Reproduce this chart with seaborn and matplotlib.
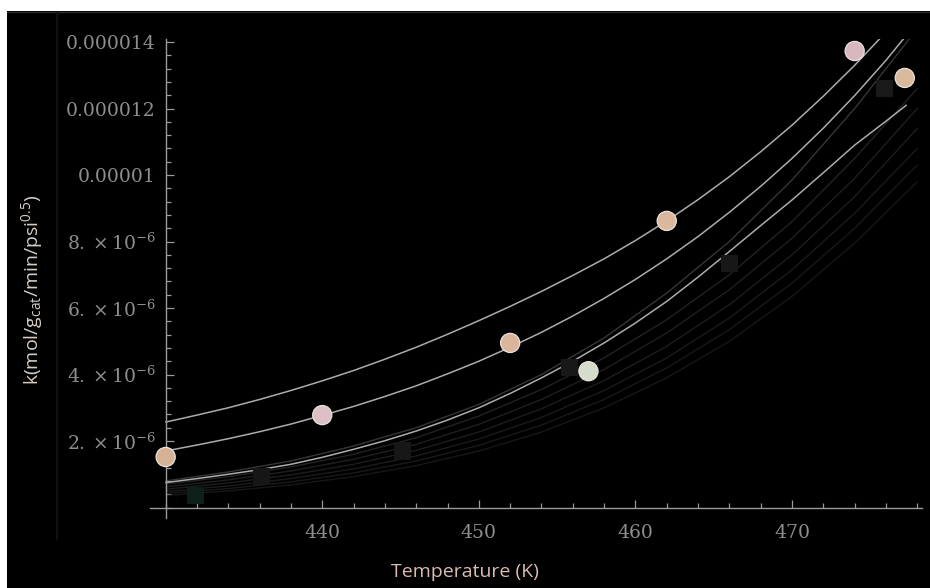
import numpy as np
import pandas as pd
import matplotlib
matplotlib.use("Agg")
import matplotlib.pyplot as plt
import seaborn as sns
from matplotlib.patches import Rectangle
from matplotlib.lines import Line2D
from matplotlib.ticker import FixedLocator, MultipleLocator, NullFormatter

# ---- measured rate constants k (in units of 1e-6 mol/g_cat/min/psi^0.5) ----
meas_T = [430.0, 440.0, 452.0, 457.0, 462.0, 474.0, 477.2]
meas_k = [1.52, 2.78, 4.95, 4.10, 8.62, 13.73, 12.92]
meas_color = ["#d6b294", "#dcc0c6", "#dab59b", "#d6dccb", "#dbb89d", "#d9b7bf", "#d9b99e"]

# faint secondary data set
faint_T = [431.9, 436.1, 445.1, 455.8, 466.0, 475.9]
faint_k = [0.35, 0.92, 1.70, 4.20, 7.35, 12.60]
faint_color = ["#0c2019", "#161616", "#171717", "#181818", "#171717", "#191919"]

# ---- model curves, sampled along temperature ----
curve_T = [430, 432, 434, 436, 438, 440, 442, 444, 446, 448, 450, 452, 454, 456, 458,
           460, 462, 464, 466, 468, 470, 472, 474, 476, 477.3]
fit_upper = [2.57, 2.78, 3.00, 3.25, 3.52, 3.81, 4.12, 4.46, 4.82, 5.21, 5.62, 6.05,
             6.50, 6.98, 7.48, 8.03, 8.62, 9.26, 9.95, 10.70, 11.50, 12.37, 13.30,
             14.30, 15.10]
fit_middle = [1.70, 1.88, 2.07, 2.28, 2.51, 2.77, 3.04, 3.34, 3.66, 4.02, 4.40, 4.82,
              5.27, 5.76, 6.29, 6.86, 7.48, 8.15, 8.88, 9.66, 10.50, 11.41, 12.39,
              13.45, 14.20]
fit_lower = [0.75, 0.87, 1.00, 1.14, 1.30, 1.51, 1.75, 2.01, 2.30, 2.63, 3.00, 3.43,
             3.90, 4.40, 4.95, 5.55, 6.20, 6.93, 7.70, 8.48, 9.25, 10.07, 10.90,
             11.62, 12.10]

ens_T = [430, 434, 438, 442, 446, 450, 454, 458, 462, 466, 470, 474, 478]
ensemble = [
    [0.80, 1.07, 1.40, 1.85, 2.40, 3.10, 4.00, 5.10, 6.45, 8.00, 9.85, 12.00, 14.40],
    [0.70, 0.93, 1.22, 1.60, 2.10, 2.75, 3.55, 4.50, 5.65, 7.00, 8.60, 10.50, 12.60],
    [0.62, 0.83, 1.10, 1.45, 1.90, 2.50, 3.25, 4.15, 5.25, 6.55, 8.10, 9.90, 12.00],
    [0.55, 0.74, 0.98, 1.30, 1.72, 2.27, 2.97, 3.82, 4.85, 6.10, 7.60, 9.35, 11.40],
    [0.48, 0.65, 0.87, 1.16, 1.55, 2.06, 2.71, 3.52, 4.50, 5.70, 7.15, 8.85, 10.80],
    [0.42, 0.57, 0.77, 1.04, 1.40, 1.87, 2.48, 3.25, 4.20, 5.35, 6.75, 8.40, 10.30],
    [0.36, 0.50, 0.68, 0.93, 1.26, 1.70, 2.27, 3.00, 3.90, 5.00, 6.35, 7.95, 9.80],
]
ensemble_color = ["#363636", "#222222", "#1f1f1f", "#1d1d1d", "#1b1b1b", "#191919", "#171717"]

x_major = [440, 450, 460, 470]
y_major = [2e-6, 4e-6, 6e-6, 8e-6, 1e-5, 1.2e-5, 1.4e-5]
y_labels = [r"$\mathregular{2.\times10^{-6}}$", r"$\mathregular{4.\times10^{-6}}$",
            r"$\mathregular{6.\times10^{-6}}$", r"$\mathregular{8.\times10^{-6}}$",
            "0.00001", "0.000012", "0.000014"]

SCALE = 1e-6

sns.set_theme(style="dark")
plt.rcParams["font.family"] = ["DejaVu Serif"]
plt.rcParams["mathtext.fontset"] = "dejavuserif"

fig = plt.figure(figsize=(9.30, 5.88), dpi=100)
fig.patch.set_facecolor("white")
fig.patches.append(Rectangle((7 / 930, 0), 924 / 930, 577 / 588, transform=fig.transFigure,
                             facecolor="black", edgecolor="none", zorder=-5))
fig.lines.append(Line2D([7 / 930, 1], [1 - 11.5 / 588, 1 - 11.5 / 588],
                        transform=fig.transFigure, color="#2c2c2c", lw=1.0))
fig.lines.append(Line2D([57 / 930, 57 / 930], [1 - 540 / 588, 1 - 12 / 588],
                        transform=fig.transFigure, color="#141414", lw=1.2))

ax = fig.add_axes([150 / 930, 1 - 517.5 / 588, 772 / 930, 478.8 / 588])
ax.set_facecolor("none")

# faint ensemble of curves
for vals, col in zip(ensemble, ensemble_color):
    sns.lineplot(x=ens_T, y=np.array(vals) * SCALE, color=col, lw=1.0, ax=ax,
                 estimator=None, sort=False)

# fitted curves
for vals in (fit_upper, fit_middle, fit_lower):
    sns.lineplot(x=curve_T, y=np.array(vals) * SCALE, color="#acacac", lw=1.1, ax=ax,
                 estimator=None, sort=False)

# faint markers
fdf = pd.DataFrame({"T": faint_T, "k": np.array(faint_k) * SCALE, "id": range(len(faint_T))})
sns.scatterplot(data=fdf, x="T", y="k", hue="id", palette=faint_color, marker="s",
                s=150, edgecolor="none", legend=False, ax=ax, zorder=3)

# measured points
mdf = pd.DataFrame({"T": meas_T, "k": np.array(meas_k) * SCALE, "id": range(len(meas_T))})
sns.scatterplot(data=mdf, x="T", y="k", hue="id", palette=meas_color, s=190,
                edgecolor="#e8e2dc", linewidth=0.9, legend=False, ax=ax, zorder=4)

ax.set_xlim(429.0, 478.3)
ax.set_ylim(-0.3e-6, 14.1e-6)

for side in ("top", "right"):
    ax.spines[side].set_visible(False)
ax.spines["left"].set_position(("data", 430))
ax.spines["bottom"].set_position(("data", 0))
for side in ("left", "bottom"):
    ax.spines[side].set_color("#9a9a9a")
    ax.spines[side].set_linewidth(1.0)

ax.xaxis.set_major_locator(FixedLocator(x_major))
ax.xaxis.set_minor_locator(MultipleLocator(2))
ax.xaxis.set_minor_formatter(NullFormatter())
ax.set_xticklabels([str(v) for v in x_major])
ax.yaxis.set_major_locator(FixedLocator(y_major))
ax.yaxis.set_minor_locator(MultipleLocator(0.4e-6))
ax.yaxis.set_minor_formatter(NullFormatter())
ax.set_yticklabels(y_labels)

ax.tick_params(which="both", bottom=True, left=True, top=False, right=False,
               direction="in", colors="#9a9a9a", labelcolor="#8e8e8e", width=0.9,
               labelsize=13.5)
ax.tick_params(which="major", length=6)
ax.tick_params(which="minor", length=3.5)
ax.tick_params(axis="x", which="major", pad=12)
ax.tick_params(axis="y", which="major", pad=7)
ax.set_xlabel("")
ax.set_ylabel("")
ax.grid(False)

fig.text(465 / 930, 1 - 572 / 588, "Temperature (K)", color="#d8bcb2",
         family=["Open Sans", "DejaVu Sans"], fontsize=14, ha="center", va="center")
fig.text(32 / 930, 1 - 290 / 588,
         r"k(mol/g$_{\mathregular{cat}}$/min/psi$^{\mathregular{0.5}}$)",
         color="#d6cec8", family=["Open Sans", "DejaVu Sans"], fontsize=14,
         rotation=90, ha="center", va="center")

fig.savefig("out.png", dpi=100, facecolor=fig.get_facecolor())
